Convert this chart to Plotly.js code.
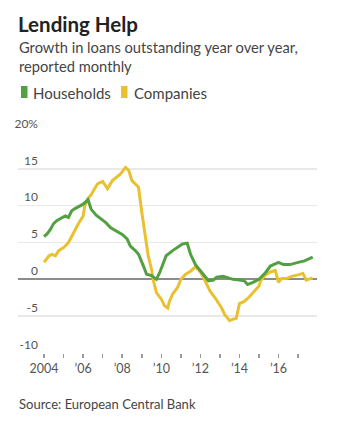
<!DOCTYPE html>
<html>
<head>
<meta charset="utf-8">
<script src="https://cdn.plot.ly/plotly-3.0.1.min.js"></script>
<style>
html,body{margin:0;padding:0;background:#fff;}
#chart{width:339px;height:426px;}
</style>
</head>
<body>
<div id="chart"></div>
<script>
const seriesNames = ["Households", "Companies"];

const householdDates = [
  "2004-01","2004-03","2004-05","2004-07","2004-09","2004-12","2005-02","2005-04","2005-06","2005-08",
  "2005-11","2006-01","2006-04","2006-06","2006-09","2006-11","2007-03","2007-06","2007-09","2008-01",
  "2008-04","2008-06","2008-09","2008-11","2009-02","2009-04","2009-07","2009-10","2009-12","2010-02",
  "2010-04","2010-08","2010-11","2011-02","2011-05","2011-07","2011-10","2012-01","2012-04","2012-06",
  "2012-09","2012-11","2013-03","2013-06","2013-09","2014-01","2014-04","2014-06","2014-09","2015-01",
  "2015-05","2015-08","2016-01","2016-04","2016-08","2017-01","2017-05","2017-10"
];
const householdValues = [
  5.8,6.2,6.8,7.6,8.0,8.3,8.6,8.4,9.3,9.6,
  10.0,10.2,10.8,9.5,8.7,8.4,7.7,7.0,6.6,6.1,
  5.5,4.5,3.9,3.4,1.8,0.7,0.5,0.0,0.9,2.0,
  3.2,3.9,4.3,4.8,4.9,3.4,2.0,1.2,0.4,-0.2,
  -0.1,0.3,0.4,0.2,0.0,-0.1,-0.2,-0.7,-0.45,0.0,
  0.9,1.8,2.3,2.0,2.0,2.3,2.5,3.0
];

const companyDates = [
  "2004-01","2004-04","2004-06","2004-08","2004-10","2005-01","2005-04","2005-06","2005-08","2005-10",
  "2006-01","2006-02","2006-04","2006-06","2006-08","2006-10","2007-01","2007-04","2007-07","2007-10",
  "2007-12","2008-03","2008-05","2008-07","2008-09","2008-11","2009-01","2009-03","2009-05","2009-07",
  "2009-08","2009-10","2010-01","2010-03","2010-05","2010-06","2010-08","2010-11","2011-01","2011-04",
  "2011-07","2011-10","2012-01","2012-03","2012-05","2012-07","2012-10","2012-12","2013-02","2013-04",
  "2013-07","2013-09","2013-11","2014-01","2014-04","2014-07","2014-10","2015-01","2015-02","2015-05",
  "2015-08","2015-11","2016-01","2016-03","2016-06","2016-09","2017-01","2017-04","2017-06","2017-08",
  "2017-10"
];
const companyValues = [
  2.3,3.2,3.4,3.2,3.9,4.3,5.0,5.9,6.8,7.5,
  8.6,10.0,11.0,11.5,12.3,13.0,13.3,12.3,13.4,13.9,
  14.3,15.2,14.8,13.4,13.0,12.5,9.1,5.9,3.2,1.4,
  0.0,-1.8,-2.7,-3.6,-3.9,-3.0,-2.0,-1.1,0.0,0.7,
  1.1,1.7,1.0,0.2,-0.6,-1.6,-2.5,-3.2,-3.9,-4.8,
  -5.6,-5.4,-5.3,-3.3,-3.0,-2.4,-1.7,-0.9,-0.2,0.6,
  1.0,1.2,-0.4,0.1,0.1,0.4,0.6,0.8,-0.1,0.0,
  0.2
];

const xTickVals = ["2004-01-01","2005-01-01","2006-01-01","2007-01-01","2008-01-01","2009-01-01","2010-01-01",
  "2011-01-01","2012-01-01","2013-01-01","2014-01-01","2015-01-01","2016-01-01","2017-01-01"];
const xTickText = ["2004","","\u201906","","\u201908","","\u201910","","\u201912","","\u201914","","\u201916",""];
const yTickVals = [-10,-5,0,5,10,15,20];
const yTickText = ["-10","-5","0","5","10","15","20%"];

const colors = ["#53a043", "#e9c130"];
const FONT = "Lato, 'Open Sans', sans-serif";

const L = 18, R = 317, T = 132, B = 353;
const px = x => (x - L) / (R - L);
const py = y => (B - y) / (B - T);

const traces = [
  {x: companyDates, y: companyValues, name: seriesNames[1], type: "scatter", mode: "lines",
   line: {color: colors[1], width: 3}, hoverinfo: "skip"},
  {x: householdDates, y: householdValues, name: seriesNames[0], type: "scatter", mode: "lines",
   line: {color: colors[0], width: 3}, hoverinfo: "skip"}
];

const layout = {
  width: 339, height: 426,
  margin: {l: L, r: 339 - R, t: T, b: 426 - B, pad: 0},
  paper_bgcolor: "#fff", plot_bgcolor: "#fff",
  showlegend: false,
  font: {family: FONT, color: "#555"},
  title: {
    text: "<b>Lending Help</b>",
    font: {family: FONT, size: 20.5, color: "#222"},
    xref: "container", yref: "container",
    x: 18/339, xanchor: "left",
    y: 1 - 25/426, yanchor: "middle"
  },
  xaxis: {
    type: "date",
    range: ["2002-09-01", "2017-12-20"],
    tickvals: xTickVals, ticktext: xTickText,
    ticks: "outside", ticklen: 4, tickwidth: 1.5, tickcolor: "#999",
    showgrid: false, zeroline: false, showline: false,
    tickfont: {family: FONT, size: 12.5, color: "#555"},
    fixedrange: true
  },
  yaxis: {
    range: [-10, 20],
    tickvals: yTickVals, ticktext: yTickText,
    ticks: "", showline: false,
    showgrid: true, gridcolor: "#e9e9e9", gridwidth: 1.5,
    zeroline: true, zerolinecolor: "#8c8c8c", zerolinewidth: 2,
    ticklabelposition: "outside top",
    ticklabelstandoff: -21,
    tickfont: {family: FONT, size: 12, color: "#555"},
    fixedrange: true
  },
  shapes: [
    {type: "rect", xref: "paper", yref: "paper", x0: px(21), x1: px(27.5), y0: py(98), y1: py(86),
     fillcolor: colors[0], line: {width: 0}},
    {type: "rect", xref: "paper", yref: "paper", x0: px(121), x1: px(127.5), y0: py(98), y1: py(86),
     fillcolor: colors[1], line: {width: 0}}
  ],
  annotations: [
    {text: "Growth in loans outstanding year over year,", xref: "paper", yref: "paper",
     x: px(17), y: py(47), xanchor: "left", yanchor: "middle", showarrow: false,
     font: {family: FONT, size: 14.7, color: "#444"}},
    {text: "reported monthly", xref: "paper", yref: "paper",
     x: px(17), y: py(66), xanchor: "left", yanchor: "middle", showarrow: false,
     font: {family: FONT, size: 14.7, color: "#444"}},
    {text: seriesNames[0], xref: "paper", yref: "paper",
     x: px(31), y: py(93), xanchor: "left", yanchor: "middle", showarrow: false,
     font: {family: FONT, size: 15, color: "#444"}},
    {text: seriesNames[1], xref: "paper", yref: "paper",
     x: px(132), y: py(93), xanchor: "left", yanchor: "middle", showarrow: false,
     font: {family: FONT, size: 15, color: "#444"}},
    {text: "Source: European Central Bank", xref: "paper", yref: "paper",
     x: px(17), y: py(404), xanchor: "left", yanchor: "middle", showarrow: false,
     font: {family: FONT, size: 13, color: "#444"}}
  ]
};

Plotly.newPlot("chart", traces, layout, {displayModeBar: false, staticPlot: true});
</script>
</body>
</html>
